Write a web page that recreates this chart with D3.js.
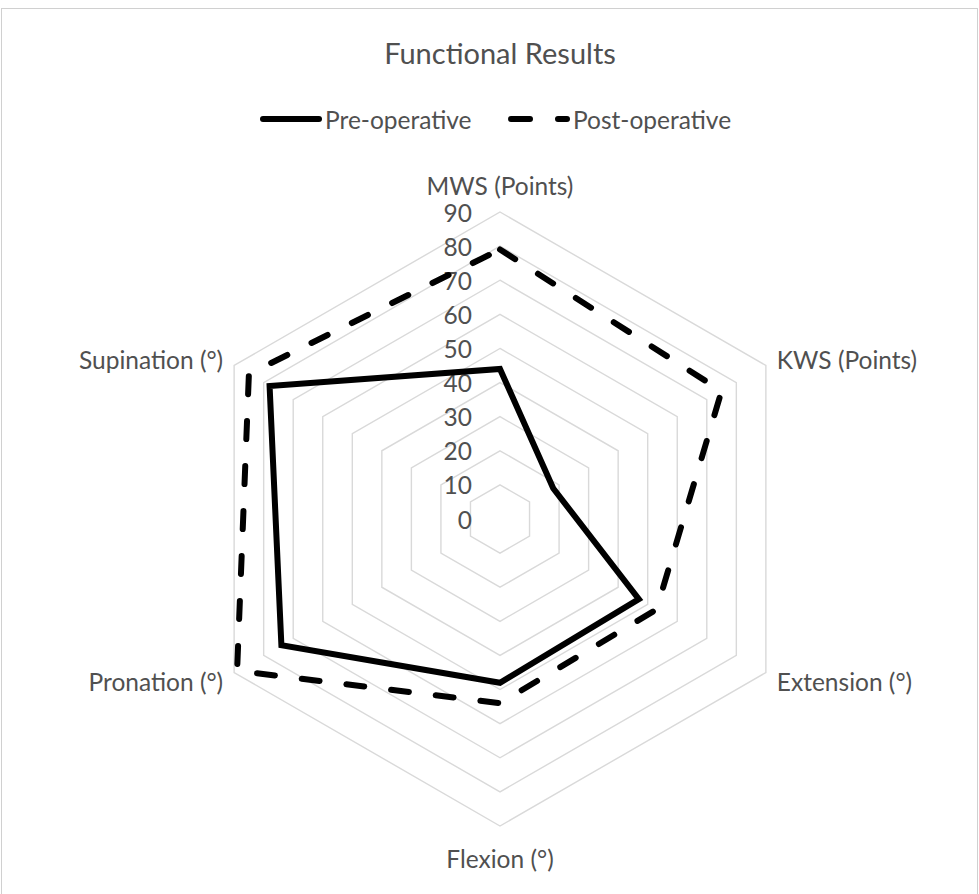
<!DOCTYPE html>
<html>
<head>
<meta charset="utf-8">
<script src="https://cdn.jsdelivr.net/npm/d3@7/dist/d3.min.js"></script>
<style>
  html, body { margin: 0; padding: 0; background: #fff; }
  svg { display: block; }
  text { font-family: Lato, "Noto Sans", sans-serif; fill: #505050; }
</style>
</head>
<body>
<svg id="chart" width="979" height="894"></svg>
<script>
// Radar axes, clockwise from the top
const categories = ["MWS (Points)", "KWS (Points)", "Extension (°)", "Flexion (°)", "Pronation (°)", "Supination (°)"];
const preOperative = [44, 18, 47, 48, 74, 78];
const postOperative = [79, 75, 53, 54, 89, 85];
const tickValues = [0, 10, 20, 30, 40, 50, 60, 70, 80, 90];
const seriesNames = ["Pre-operative", "Post-operative"];

const svg = d3.select("#chart");
const W = 979, H = 894;
const cx = 500, cy = 519, R = 307;

// chart frame
svg.append("rect")
  .attr("x", 1.5).attr("y", 8.5)
  .attr("width", W - 3).attr("height", H)
  .attr("fill", "none").attr("stroke", "#d0d0d0").attr("stroke-width", 1);

svg.append("text")
  .attr("x", cx).attr("y", 52)
  .attr("text-anchor", "middle").attr("dominant-baseline", "central")
  .style("font-size", "29px")
  .text("Functional Results");

const r = d3.scaleLinear().domain([0, 90]).range([0, R]);
const angle = d3.scalePoint().domain(categories).range([0, 2 * Math.PI * (categories.length - 1) / categories.length]);

const g = svg.append("g").attr("transform", `translate(${cx},${cy})`);

const ringLine = d3.lineRadial()
  .angle(d => angle(d.c))
  .radius(d => r(d.v))
  .curve(d3.curveLinearClosed);

// concentric hexagonal gridlines
g.selectAll("path.ring")
  .data(tickValues.filter(t => t > 0))
  .join("path")
  .attr("class", "ring")
  .attr("d", t => ringLine(categories.map(c => ({ c, v: t }))))
  .attr("fill", "none")
  .attr("stroke", "#d9d9d9")
  .attr("stroke-width", 1.4);

// value labels up the first axis
g.selectAll("text.tick")
  .data(tickValues)
  .join("text")
  .attr("class", "tick")
  .attr("x", -28)
  .attr("y", t => -r(t))
  .attr("text-anchor", "end")
  .attr("dominant-baseline", "central")
  .style("font-size", "24.5px")
  .text(t => t);

// category labels just outside the outer ring
g.selectAll("text.cat")
  .data(categories)
  .join("text")
  .attr("class", "cat")
  .style("font-size", "24.5px")
  .each(function (c) {
    const a = angle(c);
    const sx = Math.sin(a), sy = -Math.cos(a);
    let x, y, anchor = "middle";
    if (Math.abs(sx) < 0.01) {
      x = 0;
      y = sy < 0 ? -r(90) - 27 : r(90) + 32;
    } else {
      anchor = sx > 0 ? "start" : "end";
      x = r(90) * sx + (sx > 0 ? 11 : -11);
      y = r(90) * sy + (sy < 0 ? -6 : 9);
    }
    d3.select(this)
      .attr("x", x).attr("y", y)
      .attr("text-anchor", anchor)
      .attr("dominant-baseline", "central")
      .text(c);
  });

const series = [
  { name: seriesNames[0], values: preOperative, dash: null },
  { name: seriesNames[1], values: postOperative, dash: "18 27" }
];

g.selectAll("path.series")
  .data(series)
  .join("path")
  .attr("class", "series")
  .attr("d", s => ringLine(categories.map((c, i) => ({ c, v: s.values[i] }))))
  .attr("fill", "none")
  .attr("stroke", "#000")
  .attr("stroke-width", 6)
  .attr("stroke-linejoin", "miter")
  .attr("stroke-linecap", "round")
  .attr("stroke-dasharray", s => s.dash);

// legend
const legend = svg.append("g");
const legendItems = [
  { s: series[0], x1: 263, x2: 319, tx: 325 },
  { s: series[1], x1: 511, x2: 567, tx: 573 }
];
legendItems.forEach(it => {
  legend.append("line")
    .attr("x1", it.x1).attr("x2", it.x2)
    .attr("y1", 119).attr("y2", 119)
    .attr("stroke", "#000").attr("stroke-width", 6)
    .attr("stroke-linecap", "round")
    .attr("stroke-dasharray", it.s.dash ? "19 28" : null);
  legend.append("text")
    .attr("x", it.tx).attr("y", 119)
    .attr("dominant-baseline", "central")
    .style("font-size", "24.5px")
    .text(it.s.name);
});
</script>
</body>
</html>
